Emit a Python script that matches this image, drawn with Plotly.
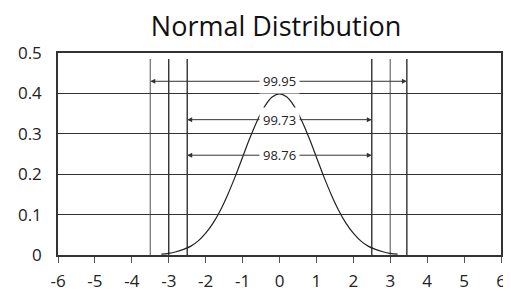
import plotly.graph_objects as go

# Curve values
curve_x = [-3.2, -3.0, -2.8, -2.6, -2.4, -2.2, -2.0, -1.8, -1.6, -1.4, -1.2, -1.0, -0.8, -0.6, -0.4, -0.2,
           0.0, 0.2, 0.4, 0.6, 0.8, 1.0, 1.2, 1.4, 1.6, 1.8, 2.0, 2.2, 2.4, 2.6, 2.8, 3.0, 3.2]
curve_y = [0.002, 0.004, 0.008, 0.014, 0.022, 0.035, 0.054, 0.079, 0.111, 0.150, 0.194, 0.242, 0.290, 0.333, 0.368, 0.391,
           0.399, 0.391, 0.368, 0.333, 0.290, 0.242, 0.194, 0.150, 0.111, 0.079, 0.054, 0.035, 0.022, 0.014, 0.008, 0.004, 0.002]

# Vertical marker lines
vline_x = [-3.5, -3.0, -2.5, 2.5, 3.0, 3.45]
vline_color = ["#7a7a7a", "#222222", "#222222", "#222222", "#7a7a7a", "#222222"]
vline_top = 0.485

# Interval arrows
interval_labels = ["99.95", "99.73", "98.76"]
interval_low = [-3.5, -2.5, -2.5]
interval_high = [3.45, 2.5, 2.5]
interval_y = [0.43, 0.335, 0.247]

x_ticks = [-6, -5, -4, -3, -2, -1, 0, 1, 2, 3, 4, 5, 6]
y_ticks = [0, 0.1, 0.2, 0.3, 0.4, 0.5]
y_ticklabels = ["0", "0.1", "0.2", "0.3", "0.4", "0.5"]

fig = go.Figure()
fig.add_trace(go.Scatter(x=curve_x, y=curve_y, mode="lines", line=dict(color="#222222", width=1.2, shape="spline"),
                         hoverinfo="skip", showlegend=False))

shapes = []
for xv, c in zip(vline_x, vline_color):
    shapes.append(dict(type="line", xref="x", yref="y", x0=xv, x1=xv, y0=0, y1=vline_top,
                       line=dict(color=c, width=1.3), layer="below"))
annotations = []
for lab, lo, hi, yv in zip(interval_labels, interval_low, interval_high, interval_y):
    for end in (lo, hi):
        annotations.append(dict(x=end, y=yv, ax=0, ay=yv, xref="x", yref="y", axref="x", ayref="y",
                                text="", showarrow=True, arrowhead=2, arrowsize=1, arrowwidth=1,
                                arrowcolor="#333333", standoff=0))
    annotations.append(dict(x=0, y=yv, xref="x", yref="y", text=lab, showarrow=False,
                            bgcolor="white", borderpad=3,
                            font=dict(family="Open Sans", size=13, color="#222222")))

# The page body adds an 8px offset, so the figure is sized to fit the 511x291 window.
fig.update_layout(
    width=503, height=283,
    margin=dict(l=50, r=10, t=45, b=36, autoexpand=False),
    paper_bgcolor="white", plot_bgcolor="white",
    title=dict(text="Normal Distribution", x=0.533, xanchor="center", y=0.935, yanchor="middle",
               font=dict(family="Open Sans", size=27, color="#111111")),
    shapes=shapes, annotations=annotations,
    xaxis=dict(range=[-6, 6], tickvals=x_ticks, ticktext=[str(v) for v in x_ticks],
               showgrid=False, zeroline=False, showline=True, linecolor="#333333", linewidth=1.5,
               mirror=True, ticks="outside", ticklen=6, tickcolor="#555555", tickwidth=1,
               automargin=False, ticklabelstandoff=4,
               tickfont=dict(family="Open Sans", size=17, color="#222222"), fixedrange=True),
    yaxis=dict(range=[0, 0.5], tickvals=y_ticks, ticktext=y_ticklabels,
               showgrid=True, gridcolor="#333333", gridwidth=1.2, zeroline=False,
               showline=True, linecolor="#333333", linewidth=1.5, mirror=True, ticks="",
               ticklabelstandoff=11, automargin=False,
               tickfont=dict(family="Open Sans", size=17, color="#222222"), fixedrange=True),
)

fig.write_html("out.html")
